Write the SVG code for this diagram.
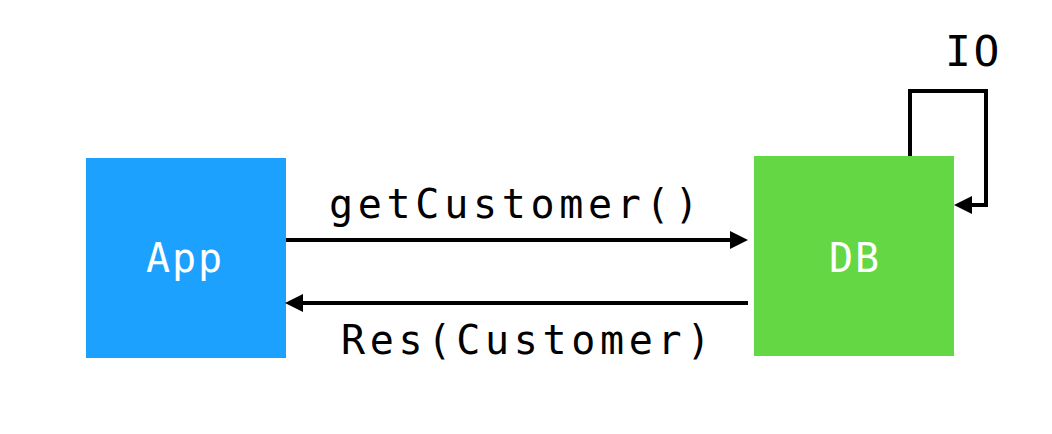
<svg xmlns="http://www.w3.org/2000/svg" width="1052" height="434" viewBox="0 0 1052 434">
<style>
.lbl{font-family:"DejaVu Sans Mono","Liberation Mono",monospace;fill:#000;}
.edge-lbl{font-size:40px;letter-spacing:4.7px;}
.node-lbl{font-family:"DejaVu Sans Mono","Liberation Mono",monospace;font-size:40px;fill:#fff;text-anchor:middle;letter-spacing:2px;}
.conn{fill:none;stroke:#000;stroke-width:4;marker-end:url(#ah);}
</style>
<defs>
<marker id="ah" markerUnits="userSpaceOnUse" markerWidth="18" markerHeight="18" refX="0" refY="9" orient="auto">
<path d="M0,0 L18,9 L0,18 z" fill="#000"/>
</marker>
</defs>
<rect width="1052" height="434" fill="#fff"/>
<g id="app">
<rect x="86" y="158" width="200" height="200" fill="#1DA1FF"/>
<text class="node-lbl" x="185" y="272">App</text>
</g>
<g id="db">
<rect x="754" y="156" width="200" height="200" fill="#64D744"/>
<text class="node-lbl" x="855" y="272">DB</text>
</g>
<g id="connectors">
<path class="conn" d="M286,240 H730"/>
<path class="conn" d="M748,303 H303"/>
<path class="conn" d="M910,156 V91 H986 V205 H972"/>
<text class="lbl edge-lbl" x="329" y="218">getCustomer()</text>
<text class="lbl edge-lbl" x="341" y="354">Res(Customer)</text>
<text class="lbl" x="945" y="66" font-size="43" letter-spacing="2.6">IO</text>
</g>
</svg>
